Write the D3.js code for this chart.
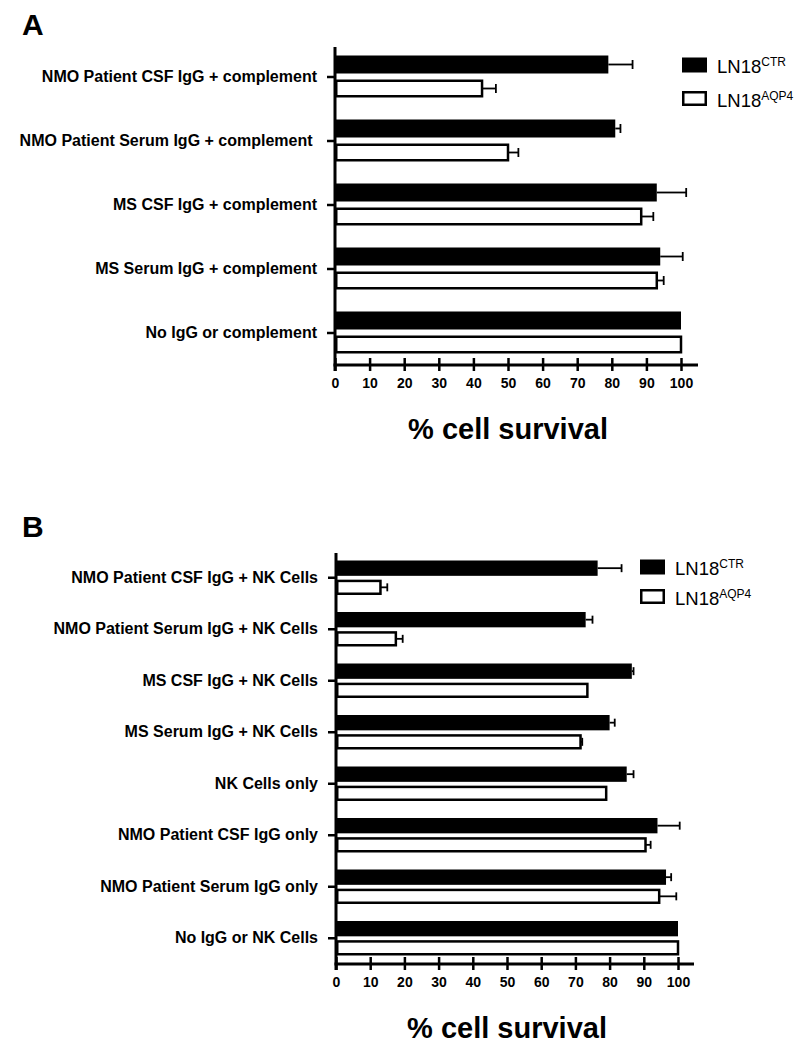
<!DOCTYPE html>
<html>
<head>
<meta charset="utf-8">
<script src="https://cdn.jsdelivr.net/npm/d3@7/dist/d3.min.js"></script>
<style>
  html, body { margin: 0; padding: 0; background: #fff; }
  svg { display: block; font-family: "Liberation Sans", Arial, Helvetica, sans-serif; }
</style>
</head>
<body>
<svg id="chart" width="810" height="1050"></svg>
<script>
// ---------- DATA ----------
const seriesNames = ["LN18", "LN18"];
const seriesSup = ["CTR", "AQP4"];
const xTicks = [0, 10, 20, 30, 40, 50, 60, 70, 80, 90, 100];
const xTitle = "% cell survival";

const catsA = [
  "NMO Patient CSF IgG + complement",
  "NMO Patient Serum IgG + complement ",
  "MS CSF IgG + complement",
  "MS Serum IgG + complement",
  "No IgG or complement"
];
const ctrA = [79, 81, 93, 94, 100];
const ctrErrA = [7, 1.5, 8.5, 6.5, 0];
const aqp4A = [42.5, 50, 88.5, 93, 100];
const aqp4ErrA = [4, 3, 3.5, 2, 0];

const catsB = [
  "NMO Patient CSF IgG + NK Cells",
  "NMO Patient Serum IgG + NK Cells",
  "MS CSF IgG + NK Cells",
  "MS Serum IgG + NK Cells",
  "NK Cells only",
  "NMO Patient CSF IgG only",
  "NMO Patient Serum IgG only",
  "No IgG or NK Cells"
];
const ctrB = [76.5, 73, 86.5, 80, 85, 94, 96.5, 100];
const ctrErrB = [7, 2, 0.5, 1.5, 2, 6.5, 1.5, 0];
const aqp4B = [13, 17.5, 73.5, 71.5, 79, 90.5, 94.5, 100];
const aqp4ErrB = [2, 2, 0, 0.5, 0, 1.5, 5, 0];

// ---------- DRAW ----------
const svg = d3.select("#chart");

function panel(cfg) {
  const g = svg.append("g");
  const x = d3.scaleLinear().domain([0, 100]).range(cfg.xRange);
  const y = d3.scaleBand().domain(cfg.cats).range(cfg.yRange);
  const sub = d3.scaleBand().domain([0, 1])
    .range([cfg.subPad[0], y.bandwidth() - cfg.subPad[1]])
    .paddingInner(cfg.subInner);
  const bw = sub.bandwidth();
  const axisY = cfg.yRange[1];

  // panel letter
  g.append("text").attr("x", 22).attr("y", cfg.letterY)
    .attr("font-size", 30).attr("font-weight", "bold").text(cfg.letter);

  const rows = cfg.cats.map((c, i) => ({
    cat: c,
    vals: [
      { s: 0, v: cfg.ctr[i], e: cfg.ctrErr[i] },
      { s: 1, v: cfg.aqp[i], e: cfg.aqpErr[i] }
    ]
  }));

  const grp = g.selectAll("g.row").data(rows).join("g")
    .attr("class", "row")
    .attr("transform", d => `translate(0,${y(d.cat)})`);

  // error bars
  grp.selectAll("g.err").data(d => d.vals.filter(v => v.e > 0)).join("g")
    .attr("class", "err")
    .each(function(d) {
      const gg = d3.select(this);
      const cy = sub(d.s) + bw / 2;
      gg.append("line")
        .attr("x1", x(d.v)).attr("x2", x(d.v + d.e))
        .attr("y1", cy).attr("y2", cy)
        .attr("stroke", "#000").attr("stroke-width", 1.8);
      gg.append("line")
        .attr("x1", x(d.v + d.e)).attr("x2", x(d.v + d.e))
        .attr("y1", cy - cfg.cap / 2).attr("y2", cy + cfg.cap / 2)
        .attr("stroke", "#000").attr("stroke-width", 1.8);
    });

  // bars
  grp.selectAll("rect.bar").data(d => d.vals).join("rect")
    .attr("class", "bar")
    .attr("x", d => d.s === 0 ? x(0) : x(0) + 1.25)
    .attr("y", d => d.s === 0 ? sub(d.s) : sub(d.s) + 1.25)
    .attr("width", d => d.s === 0 ? x(d.v) - x(0) : x(d.v) - x(0) - 1.25)
    .attr("height", d => d.s === 0 ? bw : bw - 2.5)
    .attr("fill", d => d.s === 0 ? "#000" : "#fff")
    .attr("stroke", d => d.s === 0 ? "none" : "#000")
    .attr("stroke-width", 2.5);

  // y axis
  const yAx = g.append("g").attr("transform", `translate(${x(0)},0)`)
    .call(d3.axisLeft(y).tickSize(8).tickPadding(10));
  yAx.select(".domain").remove();
  yAx.selectAll(".tick line").attr("stroke-width", 2.5);
  yAx.selectAll(".tick text")
    .attr("font-size", 16).attr("font-weight", "bold")
    .attr("fill", "#000")
    .attr("font-family", "'Liberation Sans', Arial, sans-serif")
    .style("white-space", "pre");
  g.append("line")
    .attr("x1", x(0)).attr("x2", x(0))
    .attr("y1", cfg.yTop).attr("y2", axisY + 6)
    .attr("stroke", "#000").attr("stroke-width", 3);

  // x axis
  const xAx = g.append("g").attr("transform", `translate(0,${axisY})`)
    .call(d3.axisBottom(x).tickValues(xTicks).tickSizeOuter(0).tickSize(6));
  xAx.select(".domain").remove();
  xAx.selectAll(".tick line").attr("y1", -7).attr("y2", 6).attr("stroke-width", 2.5);
  xAx.selectAll(".tick text")
    .attr("y", 23).attr("dy", null)
    .attr("font-size", 14).attr("font-weight", "bold").attr("fill", "#000")
    .attr("font-family", "'Liberation Sans', Arial, sans-serif");
  g.append("line")
    .attr("x1", x(0) - 1.5).attr("x2", x(100) + cfg.axisExt)
    .attr("y1", axisY).attr("y2", axisY)
    .attr("stroke", "#000").attr("stroke-width", 3);

  // x title
  g.append("text")
    .attr("x", (cfg.xRange[0] + cfg.xRange[1]) / 2)
    .attr("y", axisY + 74)
    .attr("text-anchor", "middle")
    .attr("font-size", 29).attr("font-weight", "bold")
    .text(xTitle);

  // legend
  const lg = g.append("g").attr("transform", `translate(${cfg.legend[0]},${cfg.legend[1]})`);
  [0, 1].forEach(i => {
    const ly = i * cfg.legendStep;
    lg.append("rect")
      .attr("x", i === 0 ? 0 : 1.25).attr("y", i === 0 ? 0 : 1.25)
      .attr("width", i === 0 ? 25 : 22.5).attr("height", i === 0 ? 15 : 12.5)
      .attr("transform", `translate(0,${ly})`)
      .attr("fill", i === 0 ? "#000" : "#fff")
      .attr("stroke", i === 0 ? "none" : "#000").attr("stroke-width", 2.5);
    const t = lg.append("text").attr("x", 35).attr("y", ly + 15.5)
      .attr("font-size", 18.5);
    t.append("tspan").text(seriesNames[i]);
    t.append("tspan").attr("font-size", 12).attr("dy", -7).text(seriesSup[i]);
  });
}

panel({
  letter: "A", letterY: 35,
  cats: catsA, ctr: ctrA, ctrErr: ctrErrA, aqp: aqp4A, aqpErr: aqp4ErrA,
  xRange: [335, 681], yRange: [45, 365], yTop: 47,
  subPad: [10.5, 11.5], subInner: 0.25, cap: 9, axisExt: 17,
  legend: [682, 57.5], legendStep: 33.5
});

panel({
  letter: "B", letterY: 537,
  cats: catsB, ctr: ctrB, ctrErr: ctrErrB, aqp: aqp4B, aqpErr: aqp4ErrB,
  xRange: [336, 678], yRange: [552, 964], yTop: 553,
  subPad: [8.5, 8.5], subInner: 0.2, cap: 8, axisExt: 16,
  legend: [640, 559.5], legendStep: 29.5
});
</script>
</body>
</html>
